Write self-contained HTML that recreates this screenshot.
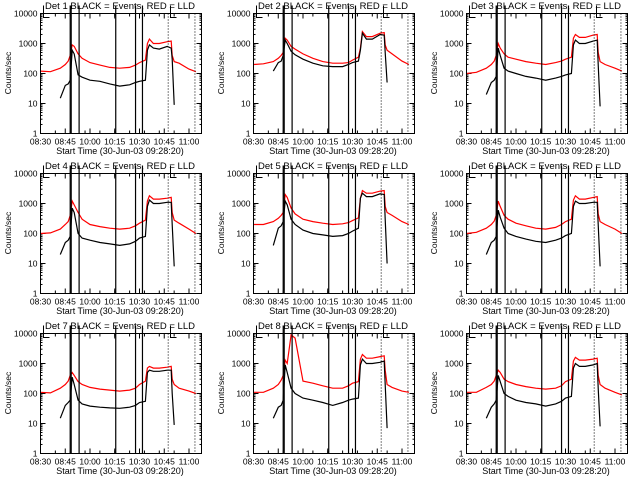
<!DOCTYPE html>
<html><head><meta charset="utf-8"><style>
html,body{margin:0;padding:0;background:#fff;}
svg{display:block;font-family:"Liberation Sans",sans-serif;}
</style></head><body>
<svg id="chart" width="640" height="480" viewBox="0 0 640 480"></svg>
<script>
const times = [0,10,20,25,28,30,32,34,38,42,50,60,70,80,90,96,100,106,108,110,114,120,128,132,133,135,140,150,157];
const red1=[120,115,150,200,260,400,900,800,450,320,230,190,160,150,160,190,230,280,1000,1400,1000,1000,1150,1200,400,250,220,140,115];
const blk1=[null,null,15,40,45,60,600,450,90,75,60,55,45,38,42,50,55,60,600,900,700,650,800,700,300,9];
const red2=[200,210,250,320,400,500,1500,1300,800,650,450,320,250,220,220,230,280,350,700,2500,1700,1700,2200,2300,900,600,450,260,200];
const blk2=[null,null,120,230,260,400,1300,1000,550,420,300,220,180,170,170,200,230,260,600,2200,1400,1400,2000,1900,500,50];
const red3=[100,110,150,200,260,400,1000,700,450,350,300,250,220,200,230,260,300,350,1500,2000,1600,1600,1900,2000,500,250,200,150,120];
const blk3=[null,null,20,50,60,80,700,400,150,120,100,80,70,60,70,80,90,100,900,1300,1000,1000,1200,1300,200,8];
const red4=[100,105,140,200,250,400,1200,900,500,300,200,170,150,140,150,180,220,280,1200,1800,1400,1400,1500,1600,500,280,220,140,100];
const blk4=[null,null,20,50,60,80,700,500,100,70,60,50,45,40,45,55,70,80,800,1300,1000,1000,1100,1100,200,8];
const red5=[200,200,250,320,400,500,2000,1600,700,450,300,250,220,200,210,230,270,330,1500,2700,2200,2200,2600,2700,800,500,400,250,200];
const blk5=[null,null,40,150,180,250,1200,900,300,200,130,100,90,80,85,100,120,150,1500,2200,1700,1700,2100,2000,300,10];
const red6=[100,110,150,200,260,400,1200,800,400,300,220,180,150,140,160,200,250,300,1300,1800,1400,1400,1600,1700,450,250,200,140,100];
const blk6=[null,null,20,50,60,80,600,350,150,100,80,65,55,50,60,70,85,100,800,1200,1000,1000,1100,1100,200,8];
const red7=[110,105,150,200,260,400,500,400,250,200,160,140,130,120,130,150,200,260,700,800,700,700,750,800,300,200,150,120,100];
const blk7=[null,null,15,40,50,60,350,200,60,45,38,35,33,32,35,40,50,55,500,600,550,550,600,600,100,9];
const red8=[110,110,150,200,280,400,1300,1000,9000,7000,260,220,180,150,150,180,220,250,1400,2000,1500,1500,1700,1800,600,200,160,120,110];
const blk8=[null,null,15,35,40,60,900,500,150,100,70,60,50,40,50,60,65,70,900,1400,1000,1000,1100,1200,200,7];
const red9=[110,110,160,200,260,400,600,500,300,250,200,170,150,140,150,180,250,300,1200,1600,1300,1300,1400,1500,400,200,150,110,90];
const blk9=[null,null,15,35,45,60,400,250,100,80,60,50,45,38,45,55,70,80,700,1000,800,800,900,1000,150,8];
const reds=[red1,red2,red3,red4,red5,red6,red7,red8,red9];
const blks=[blk1,blk2,blk3,blk4,blk5,blk6,blk7,blk8,blk9];
const solidLines=[30,31,39,76,96,103];
const dottedLines=[129,156];
const xTickMins=[0,15,30,45,60,75,90,105,120,135,150];
const xLab=["08:30","08:45","10:00","10:15","10:30","10:45","11:00"];
const xLabMin=[0,25,50,75,100,125,150];
const yTickVals=[1,10,100,1000,10000];

const NS="http://www.w3.org/2000/svg";
const svg=document.getElementById('chart');
function mk(tag,attrs,parent){const e=document.createElementNS(NS,tag);for(const k in attrs)e.setAttribute(k,attrs[k]);(parent||svg).appendChild(e);return e;}

for(let p=0;p<9;p++){
  const ox=(p%3)*213, oy=Math.floor(p/3)*160;
  const L=ox+40.5,R=ox+201.5,T=oy+13.5,B=oy+133.5;
  const xs=m=>L+m*0.99;
  const ys=v=>B-(Math.log10(v))*30;
  const g=mk('g',{});
  
  
  const t=mk('text',{x:ox+120,y:oy+9,'font-size':'9.5','text-anchor':'middle',fill:'#000'},g);
  t.textContent='Det '+(p+1)+'  BLACK = Events, RED = LLD';
  
  
  yTickVals.forEach(v=>{
    const y=ys(v);
    mk('line',{x1:L,x2:L+5,y1:y,y2:y,stroke:'#000'},g);
    mk('line',{x1:R-5,x2:R,y1:y,y2:y,stroke:'#000'},g);
    const tl=mk('text',{x:L-3,y:y+3,'font-size':'8.5','text-anchor':'end'},g);
    tl.textContent=String(v);
    
    
  });
  const minorTicks=[2,3,4,5,6,7,8,9];
  for(let d=0;d<4;d++)minorTicks.forEach(m=>{const y=ys(m*Math.pow(10,d));mk('line',{x1:L,x2:L+2,y1:y,y2:y,stroke:'#000'},g);mk('line',{x1:R-2,x2:R,y1:y,y2:y,stroke:'#000'},g);});
  xTickMins.forEach(m=>{const x=xs(m);mk('line',{x1:x,x2:x,y1:B,y2:B-3,stroke:'#000'},g);mk('line',{x1:x,x2:x,y1:T,y2:T+3,stroke:'#000'},g);});
  xLab.forEach((s,i)=>{const x=xs(xLabMin[i]);mk('line',{x1:x,x2:x,y1:B,y2:B-5,stroke:'#000'},g);mk('line',{x1:x,x2:x,y1:T,y2:T+5,stroke:'#000'},g);
    const tl=mk('text',{x:x,y:B+11,'font-size':'8.5','text-anchor':'middle'},g);tl.textContent=s;
    
    });
  const xt=mk('text',{x:ox+120,y:oy+154,'font-size':'9','text-anchor':'middle'},g);
  xt.textContent='Start Time (30-Jun-03 09:28:20)';
  
  
  const yt=mk('text',{x:0,y:0,'font-size':'8.5','text-anchor':'middle',transform:`translate(${ox+11},${oy+73}) rotate(-90)`},g);
  yt.textContent='Counts/sec';
  
  
  const mkPath=(arr,color,name)=>{let d='',pen=false;arr.forEach((v,i)=>{if(v==null||i>=times.length){pen=false;return;}d+=(pen?'L':'M')+xs(times[i]).toFixed(1)+','+ys(v).toFixed(1);pen=true;});
    const pa=mk('path',{d:d,fill:'none',stroke:color,'stroke-width':'1.2'},g);
    
    };
  mkPath(reds[p],'#ff0000','lld-series-red');
  mkPath(blks[p],'#000000','events-series-black');
  solidLines.forEach(m=>{const x=xs(m);mk('line',{x1:x,x2:x,y1:T-8,y2:B,stroke:'#000','stroke-width':'1.2'},g);});
  dottedLines.forEach(m=>{const x=xs(m);mk('line',{x1:x,x2:x,y1:T,y2:B,stroke:'#000','stroke-dasharray':'1,2'},g);});
  [3,130].forEach(m=>{const x=L+m;mk('path',{d:`M${x},${T-8}L${x},${T+4}L${x+6},${T+4}`,fill:'none',stroke:'#000'},g);});
  const box=mk('rect',{x:L,y:T,width:R-L,height:B-T,fill:'none',stroke:'#000'},g);
  
  
}
</script>
</body></html>
